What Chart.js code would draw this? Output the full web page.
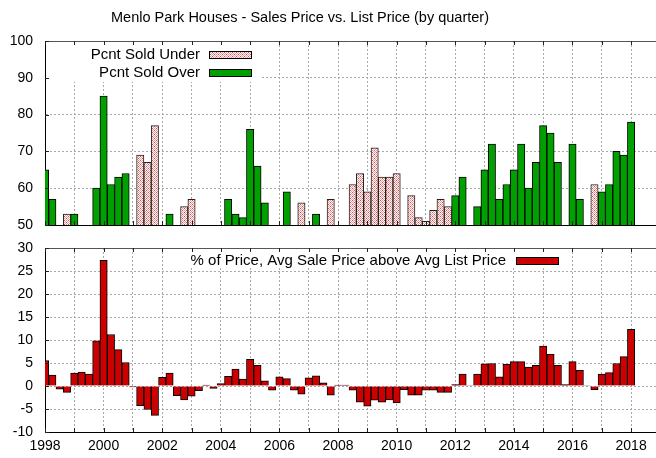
<!DOCTYPE html>
<html><head><meta charset="utf-8">
<script src="https://cdn.jsdelivr.net/npm/chart.js@4/dist/chart.umd.min.js"></script>
<style>
html,body{margin:0;padding:0;background:#fff;}
#wrap{position:relative;width:656px;height:458px;overflow:hidden;background:#fff;}
canvas{position:absolute;left:0;}
#c1{top:0;} #c2{top:236px;}
</style></head><body>
<div id="wrap"><canvas id="c1" width="656" height="236"></canvas><canvas id="c2" width="656" height="222"></canvas></div>
<script>
const titleText = 'Menlo Park Houses - Sales Price vs. List Price (by quarter)';
const labelUnder = 'Pcnt Sold Under';
const labelOver = 'Pcnt Sold Over';
const labelDiff = '% of Price, Avg Sale Price above Avg List Price';
const startYear = 1998;
const quarterStep = 0.25;
const n = null;
// one value per quarter, 1998 Q1 .. 2018 Q1
const soldUnder = [
  n,n,n,53,  n,n,n,n,  n,n,n,n,  n,69,67,77,  n,n,n,55,
  57,n,n,n,  n,n,n,n,  n,n,n,n,  n,n,n,56,   n,n,n,57,
  n,n,61,64, 59,71,63,63, 64,n,58,52, 51,54,57,55, n,n,n,n,
  n,n,n,n,  n,n,n,n,  n,n,n,n,  n,n,n,61,  n,n,n,n,
  n
];
const soldOver = [
  65,57,n,n, 53,n,n,60, 85,61,63,64, n,n,n,n, n,53,n,n,
  n,n,n,n,  n,57,53,52, 76,66,56,n, n,59,n,n, n,53,n,n,
  n,n,n,n,  n,n,n,n,  n,n,n,n,  n,n,n,n,  58,63,n,55,
  65,72,57,61, 65,72,60,67, 77,75,67,n, 72,57,n,n, 59,61,70,69,
  78
];
const priceDiff = [
  5.5,2.4,-0.7,-1.4,  2.8,3.0,2.6,9.8,  27.3,11.2,7.9,5.1,  -0.2,-4.3,-5.1,-6.4,  1.9,2.8,-2.1,-3.0,
  -2.2,-1.0,0.2,-0.5,  0.5,2.1,3.7,1.5,  5.8,4.5,1.1,-0.9,  2.0,1.6,-0.9,-1.8,  1.8,2.2,0.7,-2.0,
  0.2,0.2,-0.9,-3.5,  -4.4,-3.1,-3.5,-3.0,  -3.7,-0.8,-2.0,-2.0,  -0.9,-0.9,-1.4,-1.4,  0.3,2.6,0.1,2.6,
  4.8,4.9,2.0,4.7,  5.3,5.3,4.1,4.5,  8.7,6.9,4.5,0.3,  5.3,3.4,0.1,-0.8,  2.6,2.9,4.9,6.4,
  12.3
];
const xTickLabels = ['1998','2000','2002','2004','2006','2008','2010','2012','2014','2016','2018'];
const topYTicks = [50,60,70,80,90,100];
const botYTicks = [-10,-5,0,5,10,15,20,25,30];

const toPoints = arr => arr.map((v,i)=>({x:startYear+i*quarterStep, y:v}));

const FONT = '"Liberation Sans", Arial, sans-serif';
const GREEN = '#00a000', RED = '#cc0000';

// hatched pink pattern
const pc = document.createElement('canvas'); pc.width=4; pc.height=4;
const p = pc.getContext('2d');
p.fillStyle='#fff'; p.fillRect(0,0,4,4);
p.fillStyle='#f29a9a';
for(let i=0;i<4;i++)for(let j=0;j<4;j++) if((i+j)%2===0) p.fillRect(i,j,1,1);
p.fillStyle='#e04848'; p.fillRect(0,0,1,1); p.fillRect(2,2,1,1);
const pinkPattern = document.getElementById('c1').getContext('2d').createPattern(pc,'repeat');

function framePlugin(cfg){
  return {
    id:'frame',
    afterDraw(chart){
      const {ctx, chartArea:a, scales} = chart;
      const x = scales.x, y = scales.y;
      ctx.save();
      if (cfg.legendBg){ ctx.fillStyle='#fff'; ctx.fillRect(...cfg.legendBg); }
      // top border
      ctx.strokeStyle='#555'; ctx.lineWidth=1;
      ctx.beginPath(); ctx.moveTo(a.left, a.top+0.5); ctx.lineTo(a.right, a.top+0.5); ctx.stroke();
      // inward ticks
      ctx.strokeStyle='#222';
      ctx.beginPath();
      x.ticks.forEach(t=>{
        const px = Math.round(x.getPixelForValue(t.value))+0.5;
        ctx.moveTo(px, a.top); ctx.lineTo(px, a.top+4);
        ctx.moveTo(px, a.bottom); ctx.lineTo(px, a.bottom-4);
      });
      y.ticks.forEach(t=>{
        const py = Math.round(y.getPixelForValue(t.value))+0.5;
        ctx.moveTo(a.left, py); ctx.lineTo(a.left+4, py);
      });
      ctx.stroke();
      // title
      if (cfg.title){
        ctx.fillStyle='#000'; ctx.font='14.5px '+FONT; ctx.textAlign='center'; ctx.textBaseline='middle';
        ctx.fillText(cfg.title, 300, 18);
      }
      // legend
      ctx.font='15px '+FONT; ctx.textAlign='right'; ctx.textBaseline='middle';
      cfg.legend.forEach(l=>{
        const ds = chart.data.datasets[l.ds];
        ctx.fillStyle='#000';
        ctx.fillText(ds.label, l.tx, l.ty);
        ctx.fillStyle = ds.backgroundColor;
        ctx.fillRect(l.bx, l.ty-3.5, 43, 7);
        ctx.strokeStyle='#000'; ctx.lineWidth=1;
        ctx.strokeRect(l.bx+0.5, l.ty-3.5, 42, 7);
      });
      ctx.restore();
    }
  };
}

const gridCommon = {color:'#a8a8a8', drawTicks:false, lineWidth:1};
const yGrid = {color:'#a8a8a8', lineWidth:1, drawTicks:true, tickLength:12, tickColor:'rgba(0,0,0,0)'};

const xCommon = (showLabels) => ({
  type:'linear', min:startYear, max:2018.85, offset:false,
  grid: {...gridCommon, offset:false},
  border:{display:true, color:'#000', dash:[2,2]},
  ticks:{
    display: showLabels, stepSize:1, includeBounds:false, autoSkip:false, maxRotation:0,
    padding:6, color:'#000', font:{size:14, family:FONT},
    callback:(v)=> xTickLabels.includes(String(v)) ? String(v) : ''
  },
  afterFit:(s)=>{ s.height = showLabels ? 26 : 11; }
});

new Chart(document.getElementById('c1'), {
  type:'bar',
  data:{datasets:[
    {label:labelUnder, data:toPoints(soldUnder), backgroundColor:pinkPattern, borderColor:'#222', borderWidth:1, grouped:false, barPercentage:1, categoryPercentage:1},
    {label:labelOver, data:toPoints(soldOver), backgroundColor:GREEN, borderColor:'#000', borderWidth:1, grouped:false, barPercentage:1, categoryPercentage:1}
  ]},
  options:{
    responsive:false, animation:false, devicePixelRatio:1,
    layout:{padding:{top:41,left:0,right:0,bottom:0}},
    plugins:{legend:{display:false}, tooltip:{enabled:false}, title:{display:false}},
    scales:{
      x: xCommon(false),
      y:{min:50, max:100,
        afterBuildTicks:(s)=>{ s.ticks = topYTicks.map(v=>({value:v})); },
        grid:yGrid, border:{display:true,color:'#000',dash:[2,2]},
        ticks:{padding:0, color:'#000', font:{size:14,family:FONT}},
        afterFit:(s)=>{ s.width=45; }}
    }
  },
  plugins:[framePlugin({title:titleText, legendBg:[46,42,216,40],
    legend:[{ds:0, tx:200, ty:55, bx:209},{ds:1, tx:200, ty:73, bx:209}]})]
});

new Chart(document.getElementById('c2'), {
  type:'bar',
  data:{datasets:[
    {label:labelDiff, data:toPoints(priceDiff), backgroundColor:RED, borderColor:'#000', borderWidth:1, barPercentage:1, categoryPercentage:1}
  ]},
  options:{
    responsive:false, animation:false, devicePixelRatio:1,
    layout:{padding:{top:12,left:0,right:0,bottom:0}},
    plugins:{legend:{display:false}, tooltip:{enabled:false}},
    scales:{
      x: xCommon(true),
      y:{min:-10, max:30,
        afterBuildTicks:(s)=>{ s.ticks = botYTicks.map(v=>({value:v})); },
        grid:yGrid, border:{display:true,color:'#000',dash:[2,2]},
        ticks:{padding:0, color:'#000', font:{size:14,family:FONT}},
        afterFit:(s)=>{ s.width=45; }}
    }
  },
  plugins:[framePlugin({legendBg:[176,13,390,19],
    legend:[{ds:0, tx:506, ty:25, bx:516}]})]
});
</script>
</body></html>
